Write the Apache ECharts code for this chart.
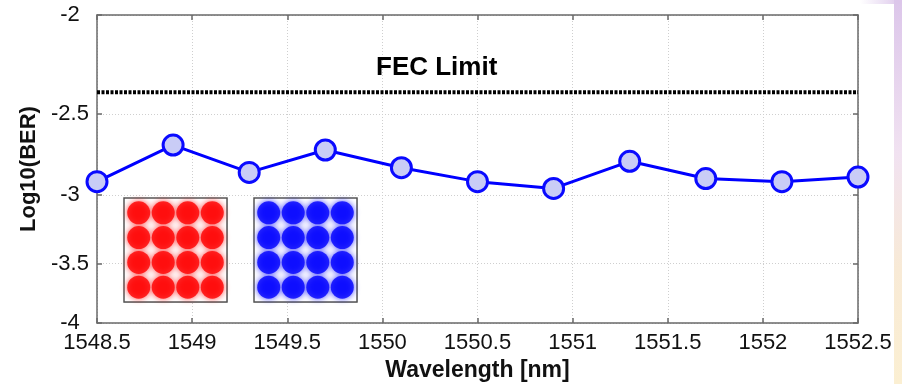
<!DOCTYPE html>
<html>
<head>
<meta charset="utf-8">
<script src="https://cdn.jsdelivr.net/npm/echarts@6/dist/echarts.min.js"></script>
<style>html,body{margin:0;padding:0;background:#fff}#c{width:902px;height:384px}</style>
</head>
<body>
<div id="c"></div>
<script>
// ---- data ----
var wavelengths = [1548.5, 1548.9, 1549.3, 1549.7, 1550.1, 1550.5, 1550.9, 1551.3, 1551.7, 1552.1, 1552.5];
var logBER = [-2.91, -2.68, -2.85, -2.71, -2.82, -2.91, -2.955, -2.78, -2.89, -2.91, -2.88];
var fecLimit = -2.38;
var fecX = [1548.5, 1552.5];
var yTicks = [-2, -2.5, -3, -3.5, -4];
var xTicks = [1548.5, 1549, 1549.5, 1550, 1550.5, 1551, 1551.5, 1552, 1552.5];
var constI = [-3, -1, 1, 3, -3, -1, 1, 3, -3, -1, 1, 3, -3, -1, 1, 3];
var constQ = [3, 3, 3, 3, 1, 1, 1, 1, -1, -1, -1, -1, -3, -3, -3, -3];

var FONT = '"Liberation Sans", Arial, sans-serif';
var mag = function (v) { return -v; };
var yMag = yTicks.map(mag);

var mainData = wavelengths.map(function (x, i) { return [x, mag(logBER[i])]; });
var fecData = fecX.map(function (x) { return [x, mag(fecLimit)]; });
var constData = constI.map(function (v, i) { return [v, constQ[i]]; });

var chart = echarts.init(document.getElementById('c'), null, { renderer: 'canvas' });

var axisGray = '#6a6a6a';
var gridMain = { left: 97, right: 44, top: 15, bottom: 61 };
var gridRed = { left: 124, top: 198, width: 103, height: 104 };
var gridBlue = { left: 254, top: 198, width: 103, height: 104 };

function constAxis(gridIndex) {
  return {
    type: 'value', gridIndex: gridIndex, min: -4.2, max: 4.2, interval: 2.1,
    axisLine: { show: false }, axisLabel: { show: false },
    axisTick: { show: false },
    splitLine: { show: true, lineStyle: { color: '#d8d8d8', width: 1 } }
  };
}

var option = {
  backgroundColor: '#ffffff',
  animation: false,
  textStyle: { fontFamily: FONT },
  grid: [
    Object.assign({ show: false, containLabel: false, outerBoundsMode: 'none' }, gridMain),
    Object.assign({ show: true, containLabel: false, outerBoundsMode: 'none', borderColor: '#555', borderWidth: 1.5, backgroundColor: '#fff', z: 5 }, gridRed),
    Object.assign({ show: true, containLabel: false, outerBoundsMode: 'none', borderColor: '#555', borderWidth: 1.5, backgroundColor: '#fff', z: 5 }, gridBlue)
  ],
  xAxis: [
    {
      type: 'value', gridIndex: 0, min: 1548.5, max: 1552.5, interval: 0.5,
      position: 'bottom',
      name: 'Wavelength [nm]', nameLocation: 'middle', nameGap: 34,
      nameTextStyle: { fontFamily: FONT, fontSize: 23, fontWeight: 'bold', color: '#111' },
      axisLine: { show: true, onZero: false, lineStyle: { color: axisGray, width: 1.5 } },
      axisTick: { show: true, inside: true, length: 5, lineStyle: { color: axisGray, width: 1.5 } },
      axisLabel: { show: true, margin: 9, fontFamily: FONT, fontSize: 22, color: '#111',
        formatter: function (v) { return String(v); }, showMinLabel: true, showMaxLabel: true },
      splitLine: { show: true, lineStyle: { color: '#cfcfcf', width: 1, type: [1, 2] } }
    },
    {
      type: 'value', gridIndex: 0, min: 1548.5, max: 1552.5, interval: 0.5,
      position: 'top',
      axisLine: { show: true, onZero: false, lineStyle: { color: axisGray, width: 1.5 } },
      axisTick: { show: true, inside: true, length: 5, lineStyle: { color: axisGray, width: 1.5 } },
      axisLabel: { show: false }, splitLine: { show: false }
    },
    constAxis(1), constAxis(2)
  ],
  yAxis: [
    {
      type: 'log', logBase: 10, gridIndex: 0, min: 2, max: 4, inverse: true,
      position: 'left',
      name: 'Log10(BER)', nameLocation: 'middle', nameGap: 53,
      nameTextStyle: { fontFamily: FONT, fontSize: 22, fontWeight: 'bold', color: '#111' },
      axisLine: { show: true, onZero: false, lineStyle: { color: axisGray, width: 1.5 } },
      axisTick: { show: true, inside: true, length: 5, customValues: yMag, lineStyle: { color: axisGray, width: 1.5 } },
      axisLabel: { show: true, margin: 27, align: 'center', customValues: yMag, fontFamily: FONT, fontSize: 22, color: '#111',
        formatter: function (v) { return '-' + (+v).toString(); } },
      splitLine: { show: true, lineStyle: { color: '#cfcfcf', width: 1, type: [1, 2] } }
    },
    {
      type: 'log', logBase: 10, gridIndex: 0, min: 2, max: 4, inverse: true,
      position: 'right',
      axisLine: { show: true, onZero: false, lineStyle: { color: axisGray, width: 1.5 } },
      axisTick: { show: true, inside: true, length: 5, customValues: yMag, lineStyle: { color: axisGray, width: 1.5 } },
      axisLabel: { show: false }, splitLine: { show: false }
    },
    constAxis(1), constAxis(2)
  ],
  graphic: [
    {
      type: 'rect', left: 894, top: 0, z: -10, silent: true,
      shape: { width: 8, height: 384 },
      style: { fill: new echarts.graphic.LinearGradient(0, 0, 0, 1, [
        { offset: 0, color: '#dcc6ea' }, { offset: 0.4, color: '#f1e2f1' },
        { offset: 0.7, color: '#f8ead6' }, { offset: 1, color: '#fbefd2' }]) }
    },
    {
      type: 'rect', left: 860, top: 0, z: -10, silent: true,
      shape: { width: 42, height: 4 },
      style: { fill: new echarts.graphic.LinearGradient(0, 0, 1, 0, [
        { offset: 0, color: 'rgba(220,200,235,0)' }, { offset: 1, color: '#dcc6ea' }]) }
    },
    {
      type: 'text', left: 376, top: 55, z: 20,
      style: { text: 'FEC Limit', font: 'bold 26px ' + FONT, fill: '#000' }
    }
  ],
  series: [
    {
      type: 'line', xAxisIndex: 0, yAxisIndex: 0, data: fecData,
      symbol: 'none', z: 3,
      lineStyle: { color: '#000', width: 4, type: [3, 1.5] }
    },
    {
      type: 'line', xAxisIndex: 0, yAxisIndex: 0, data: mainData,
      symbol: 'circle', symbolSize: 20, z: 4,
      lineStyle: { color: '#0000ff', width: 3 },
      itemStyle: { color: '#c9ccf6', borderColor: '#0a0aff', borderWidth: 3 }
    },
    {
      type: 'scatter', xAxisIndex: 2, yAxisIndex: 2, data: constData,
      symbol: 'circle', symbolSize: 23, z: 6,
      itemStyle: { color: '#ff0000', shadowBlur: 6, shadowColor: 'rgba(255,0,0,0.9)' }
    },
    {
      type: 'scatter', xAxisIndex: 3, yAxisIndex: 3, data: constData,
      symbol: 'circle', symbolSize: 23, z: 6,
      itemStyle: { color: '#0000ff', shadowBlur: 6, shadowColor: 'rgba(0,0,255,0.9)' }
    }
  ]
};
chart.setOption(option);
</script>
</body>
</html>
